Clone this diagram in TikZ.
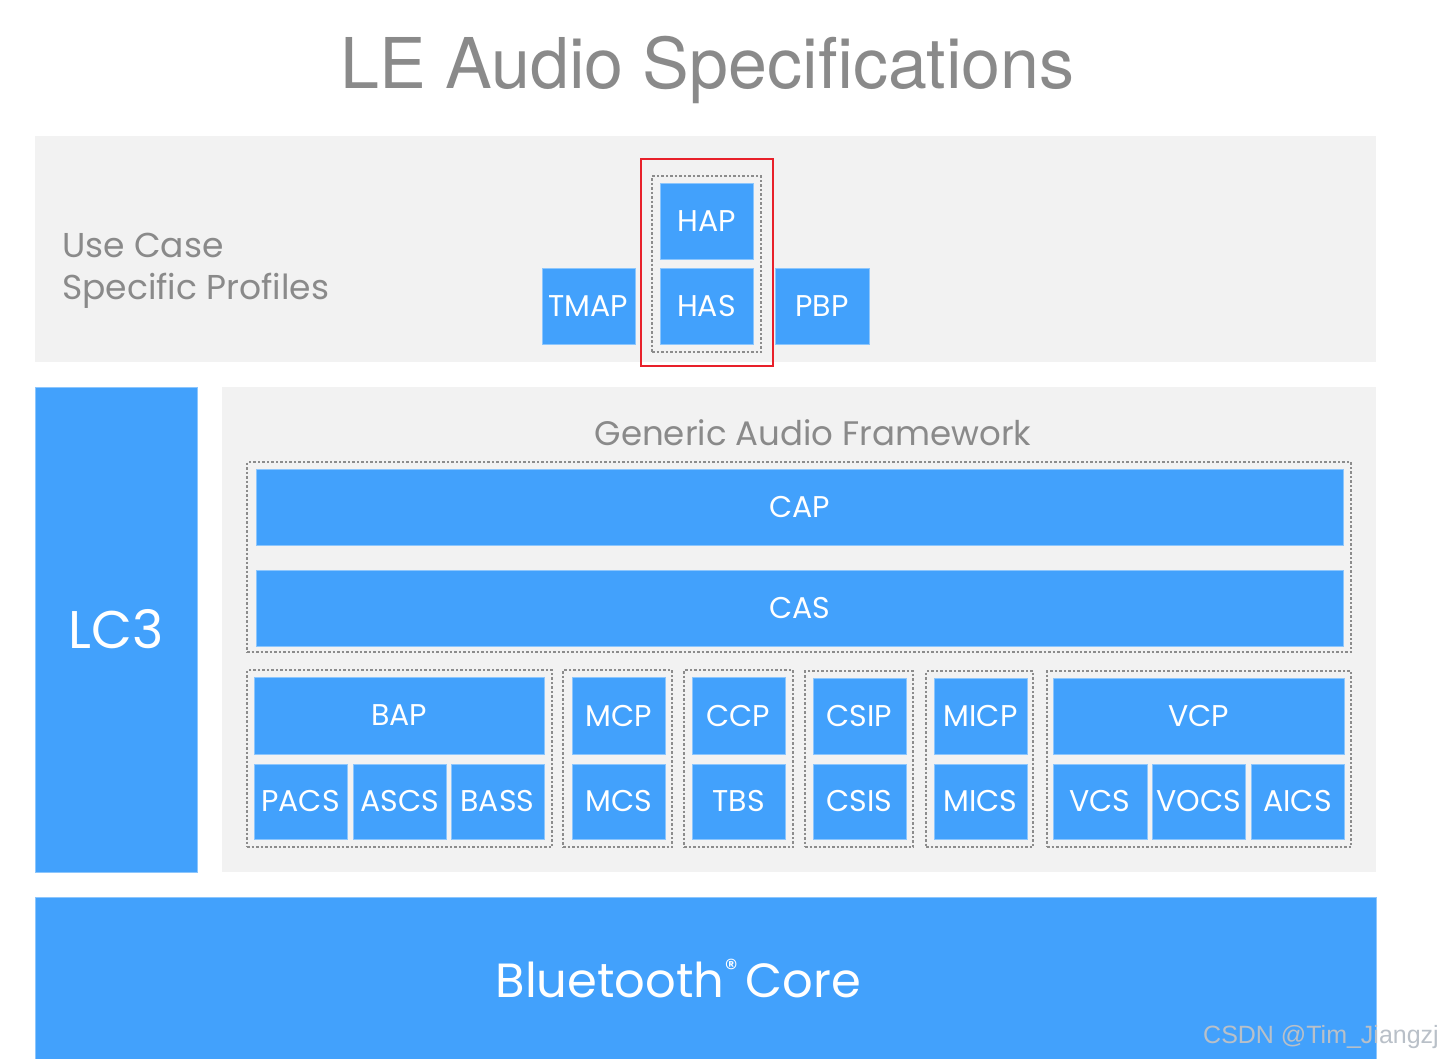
\documentclass[tikz,border=0pt]{standalone}
\usepackage{fontspec}
\setmainfont{Poppins}
\newfontfamily\titlefont{TeX Gyre Heros}
\newfontfamily\wmfont{Liberation Sans}
\definecolor{bblue}{HTML}{42A1FC}
\definecolor{bedge}{HTML}{8CC6FD}
\definecolor{panel}{HTML}{F2F2F2}
\definecolor{gtext}{HTML}{8A8A8A}
\definecolor{dashc}{HTML}{8C8C8C}
\definecolor{redbox}{HTML}{E8202A}
\definecolor{wmark}{HTML}{B9C0C8}
\tikzset{
  blk/.style={fill=bblue, draw=bedge, line width=1pt, text=white, inner sep=0pt, font=\fontsize{30}{34}\selectfont},
  pnl/.style={fill=panel, draw=none, inner sep=0pt},
  grp/.style={draw=dashc, line width=1.3pt, dash pattern=on 2.5pt off 2pt, inner sep=0pt},
  hl/.style={draw=redbox, line width=2.6pt, inner sep=0pt},
  gray text/.style={text=gtext, inner sep=0pt},
}
\newcommand\rbox[7][]{%
  \node[#1, minimum width={(#5-#3)*1pt}, minimum height={(#6-#4)*1pt}] (#2) at ({(#3+#5)/2},{(#4+#6)/2}) {#7};}
\begin{document}
\begin{tikzpicture}[x=1pt,y=-1pt]
\fill[white] (0,0) rectangle (1443,1058);
\useasboundingbox (0,0) rectangle (1443,1058);
% title
\node[gray text, anchor=base, font=\titlefont\fontsize{70}{80}\selectfont] (title) at (707.5,88) {LE Audio Specifications};
% panels
\rbox[pnl]{ucsp}{35}{136}{1376}{362}{}
\rbox[pnl]{gaf}{222}{387}{1376}{872}{}
\rbox[blk, font=\fontsize{53}{60}\selectfont]{lc3}{35}{387}{197}{872}{LC3}
\rbox[blk]{core}{35}{897}{1376}{1060}{}
% use case text
\node[gray text, anchor=base west, font=\fontsize{34.5}{42}\selectfont] (uc1) at (62,257) {Use Case};
\node[gray text, anchor=base west, font=\fontsize{34.5}{42}\selectfont] (uc2) at (62,299) {Specific Profiles};
% use case profiles
\rbox[hl]{red}{641}{159}{773}{366}{}
\rbox[grp]{gha}{652}{176}{761}{352}{}
\rbox[blk]{HAP}{660}{183}{753}{259}{HAP}
\rbox[blk]{HAS}{660}{268}{753}{344}{HAS}
\rbox[blk]{TMAP}{542}{268}{635}{344}{TMAP}
\rbox[blk]{PBP}{775}{268}{869}{344}{PBP}
% generic audio framework
\node[gray text, anchor=base, font=\fontsize{34}{42}\selectfont] (gaftitle) at (813,445) {Generic Audio Framework};
\rbox[grp]{gcap}{247}{462}{1351}{652}{}
\rbox[blk]{CAP}{256}{469}{1343}{545}{CAP}
\rbox[blk]{CAS}{256}{570}{1343}{646}{CAS}
% BAP group
\rbox[grp]{gbap}{247}{670}{552}{847}{}
\rbox[blk]{BAP}{254}{677}{544}{754}{BAP}
\rbox[blk]{PACS}{254}{764}{347}{839}{PACS}
\rbox[blk]{ASCS}{353}{764}{446}{839}{ASCS}
\rbox[blk]{BASS}{451}{764}{544}{839}{BASS}
% MCP group
\rbox[grp]{gmcp}{563}{670}{672}{847}{}
\rbox[blk]{MCP}{572}{677}{665}{754}{MCP}
\rbox[blk]{MCS}{572}{764}{665}{839}{MCS}
% CCP group
\rbox[grp]{gccp}{684}{670}{793}{847}{}
\rbox[blk]{CCP}{692}{677}{785}{754}{CCP}
\rbox[blk]{TBS}{692}{764}{785}{839}{TBS}
% CSIP group
\rbox[grp]{gcsip}{805}{671}{913}{847}{}
\rbox[blk]{CSIP}{813}{678}{906}{754}{CSIP}
\rbox[blk]{CSIS}{813}{764}{906}{839}{CSIS}
% MICP group
\rbox[grp]{gmicp}{926}{671}{1033}{847}{}
\rbox[blk]{MICP}{934}{678}{1027}{754}{MICP}
\rbox[blk]{MICS}{934}{764}{1027}{839}{MICS}
% VCP group
\rbox[grp]{gvcp}{1047}{671}{1351}{847}{}
\rbox[blk]{VCP}{1053}{678}{1344}{754}{VCP}
\rbox[blk]{VCS}{1053}{764}{1147}{839}{VCS}
\rbox[blk]{VOCS}{1152}{764}{1245}{839}{VOCS}
\rbox[blk]{AICS}{1251}{764}{1344}{839}{AICS}
% core text
\node[text=white, inner sep=0pt, anchor=base, font=\fontsize{48}{54}\selectfont] (coretext) at (678.5,997) {Bluetooth\smash{\raisebox{20pt}{\fontsize{26}{26}\selectfont ®}}\,Core};
% watermark
\node[text=wmark, inner sep=0pt, anchor=base east, font=\wmfont\fontsize{25}{30}\selectfont] (wm) at (1439,1043) {CSDN @Tim\_Jiangzj};
\end{tikzpicture}
\end{document}
